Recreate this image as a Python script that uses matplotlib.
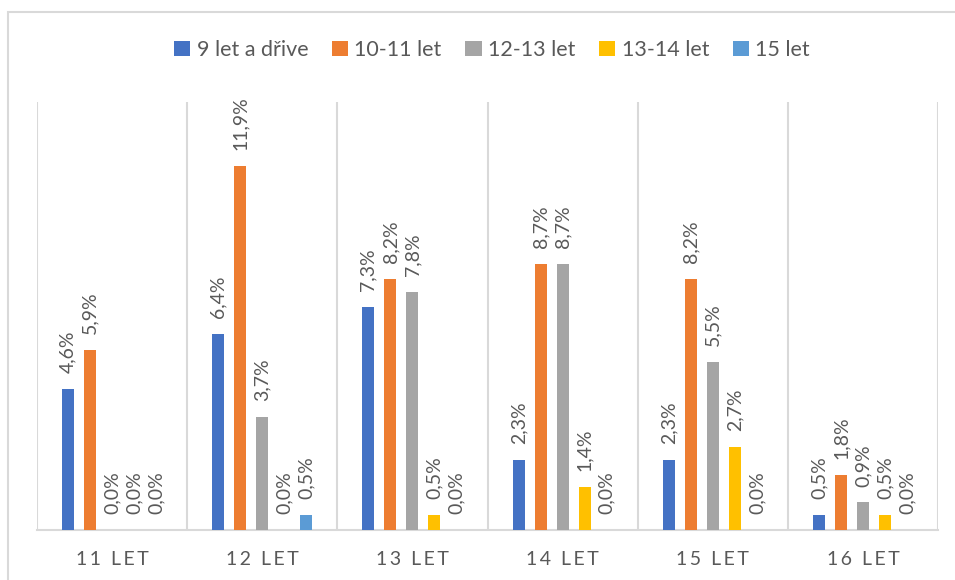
import matplotlib.pyplot as plt
import matplotlib.patches as patches
import numpy as np

categories = ['11 LET', '12 LET', '13 LET', '14 LET', '15 LET', '16 LET']
series = ['9 let a dřive', '10-11 let', '12-13 let', '13-14 let', '15 let']
colors = ['#4472C4', '#ED7D31', '#A5A5A5', '#FFC000', '#5B9BD5']

s9 = [4.6, 6.4, 7.3, 2.3, 2.3, 0.5]
s10_11 = [5.9, 11.9, 8.2, 8.7, 8.2, 1.8]
s12_13 = [0.0, 3.7, 7.8, 8.7, 5.5, 0.9]
s13_14 = [0.0, 0.0, 0.5, 1.4, 2.7, 0.5]
s15 = [0.0, 0.5, 0.0, 0.0, 0.0, 0.0]
values = [s9, s10_11, s12_13, s13_14, s15]

plt.rcParams['font.family'] = ['Lato', 'DejaVu Sans']
txt = '#595959'
grid = '#D9D9D9'

fig = plt.figure(figsize=(9.55, 5.8), dpi=100)
ax = fig.add_axes([37/955, 1-530/580, (938-37)/955, (530-102)/580])

# outer chart border (cut off at right and bottom like the source)
fig.patches.append(patches.Rectangle((8/955, -0.1), 1.2, 1.1-12/580, transform=fig.transFigure,
                                     fill=False, edgecolor=grid, lw=1.5))

x = np.arange(len(categories))
width = 0.08
step = 0.1467
for i, (name, vals) in enumerate(zip(series, values)):
    xs = x + (i - 2) * step
    ax.bar(xs, vals, width, color=colors[i], label=name, zorder=3)
    for xi, v in zip(xs, vals):
        ax.annotate(f'{v:.1f}%'.replace('.', ','), (xi, v), xytext=(0, 11.5),
                    textcoords='offset points', rotation=90, ha='center', va='bottom',
                    color=txt, fontsize=14)

for k in range(len(categories) + 1):
    ax.axvline(k - 0.5, color=grid, lw=1.5, zorder=1)

ax.set_xlim(-0.5, len(categories) - 0.5)
ax.set_ylim(0, 14)
ax.set_yticks([])
ax.set_xticks(x)
ax.set_xticklabels(['\u2009'.join(c) for c in categories], color=txt, fontsize=14)
ax.tick_params(axis='x', length=0, pad=15)
for sp in ['top', 'left', 'right']:
    ax.spines[sp].set_visible(False)
ax.spines['bottom'].set_color(grid)
ax.spines['bottom'].set_linewidth(1.5)

fig.legend(loc='center', bbox_to_anchor=(492/955, 1-50/580), ncol=5, frameon=False,
           fontsize=15.5, handlelength=0.75, handleheight=0.7, handletextpad=0.3,
           columnspacing=1.1, labelcolor=txt)

fig.savefig('out.png', dpi=100)
